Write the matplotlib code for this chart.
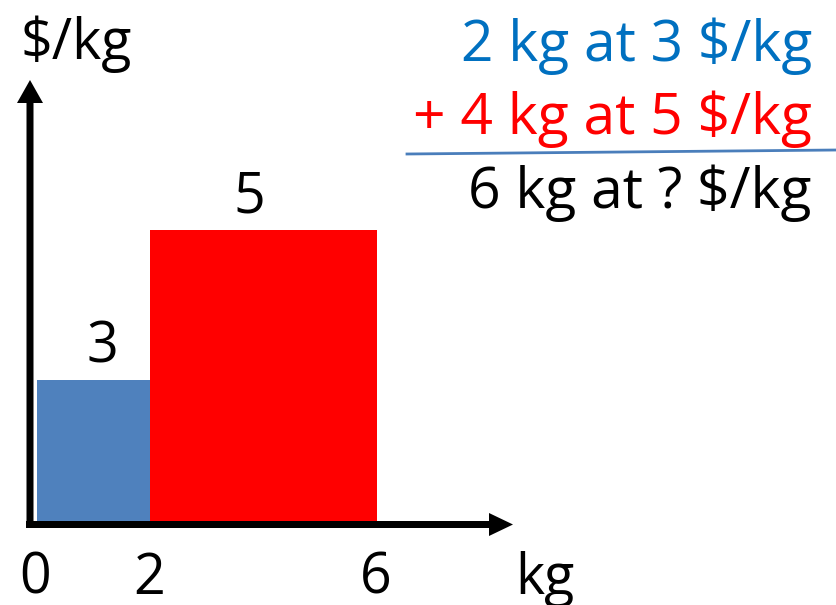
import numpy as np
import matplotlib.pyplot as plt
from matplotlib.patches import FancyArrow
from matplotlib.lines import Line2D
from matplotlib.transforms import blended_transform_factory

# data
weights = [2, 4]                 # kg
prices = [3, 5]                  # $/kg
bar_colors = ['#4F81BD', '#FF0000']
x_ticks = [0, 2, 6]
sum_lines = ['2 kg at 3 $/kg', '+ 4 kg at 5 $/kg', '6 kg at ? $/kg']
sum_colors = ['#0070C0', '#FF0000', 'black']

plt.rcParams['font.family'] = ['Open Sans', 'DejaVu Sans']

W, H = 837, 605
fig = plt.figure(figsize=(W / 100, H / 100), dpi=100)
ax = fig.add_axes([0, 0, 1, 1])
ax.axis('off')


def px(x, y):
    # pixel (from top-left) -> figure fraction
    return x / W, 1 - y / H


# the original sketch is not drawn to scale, a power scale gets close to it
p = 1.42
fwd = lambda y: np.sign(y) * np.abs(y) ** p
inv = lambda y: np.sign(y) * np.abs(y) ** (1 / p)
ax.set_yscale('function', functions=(fwd, inv))
ax.set_xlim(-37 / 56.7, (W - 37) / 56.7)
ax.set_ylim(inv(-84 / 29.6), inv(521 / 29.6))

lefts = np.cumsum([0] + weights[:-1])
ax.bar(lefts, prices, width=weights, align='edge', color=bar_colors, zorder=1)
label_dx = [9, -14]  # labels sit a bit off-centre in the original
for l, w, v, dx in zip(lefts, weights, prices, label_dx):
    ax.annotate(str(v), (l + w / 2, v), xytext=(dx, 18), textcoords='offset pixels',
                ha='center', va='baseline', fontsize=40)

# x tick labels
tr = blended_transform_factory(ax.transData, fig.transFigure)
for t in x_ticks:
    ax.text(t - 0.03, 11 / H, str(t), transform=tr, ha='center', va='baseline', fontsize=40)

fig.text(*px(545, 594), 'kg', ha='center', va='baseline', fontsize=40)
fig.text(*px(20, 59), '$/kg', ha='left', va='baseline', fontsize=40)

# axes arrows (inches)
fig.add_artist(FancyArrow(0.30, (H - 528) / 100, 0, (528 - 80) / 100, width=0.07,
                          head_width=0.26, head_length=0.23, length_includes_head=True,
                          color='black', lw=0, transform=fig.dpi_scale_trans, zorder=3))
fig.add_artist(FancyArrow(0.26, (H - 524.5) / 100, (513 - 26) / 100, 0, width=0.07,
                          head_width=0.23, head_length=0.24, length_includes_head=True,
                          color='black', lw=0, transform=fig.dpi_scale_trans, zorder=3))

# sum on the right
for i, (s, c) in enumerate(zip(sum_lines, sum_colors)):
    fig.text(*px(812, 61 + 73.5 * i), s, color=c, ha='right', va='baseline', fontsize=41)

x0, y0 = px(407, 154)
x1, y1 = px(837, 150)
fig.add_artist(Line2D([x0, x1], [y0, y1], color='#4A7EBB', lw=2, transform=fig.transFigure))

fig.savefig('out.png', dpi=100)
